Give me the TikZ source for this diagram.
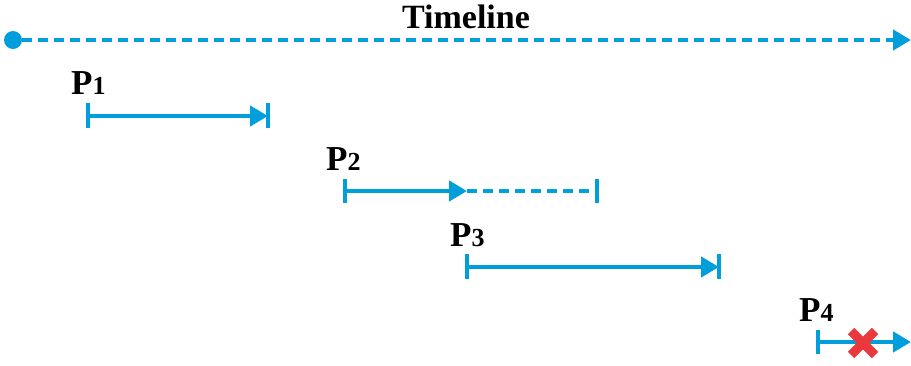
\documentclass[tikz,border=0pt]{standalone}
\usepackage{fontspec}
\setmainfont{Liberation Serif}
\usetikzlibrary{arrows.meta}
\definecolor{tlblue}{RGB}{0,158,219}
\definecolor{xred}{RGB}{234,56,60}
\newcommand{\plabel}[1]{P{\fontsize{26}{26}\selectfont #1}}
\begin{document}
\begin{tikzpicture}[x=1pt,y=-1pt,
  seg/.style={draw=tlblue,line width=4.8pt},
  tipped/.style={-{Triangle[length=18pt,width=20pt]}},
  dashseg/.style={dash pattern=on 10pt off 6pt},
  tickmark/.style={draw=tlblue,line width=4.6pt},
  lbl/.style={font=\fontsize{35}{35}\selectfont\bfseries,inner sep=0pt,anchor=base west},
  title/.style={font=\fontsize{34}{34}\selectfont\bfseries,inner sep=0pt,anchor=base}
]
\useasboundingbox (0,0) rectangle (911,365);

% Timeline
\node[title] (tl) at (466,28) {Timeline};
\node[circle,fill=tlblue,minimum size=18pt,inner sep=0pt] (start) at (13,40) {};
\coordinate (tlend) at (911,40);
\draw[seg,dashseg,tipped] (start.east) -- (tlend);

% P1
\node[lbl] (p1) at (71,94) {\plabel{1}};
\coordinate (p1a) at (88,116);
\coordinate (p1b) at (268,116);
\draw[seg,tipped] (p1a) -- (p1b);
\draw[tickmark] (88,103) -- (88,128);
\draw[tickmark] (268,103) -- (268,128);

% P2
\node[lbl] (p2) at (326,170) {\plabel{2}};
\coordinate (p2a) at (345,191);
\coordinate (p2m) at (467,191);
\coordinate (p2b) at (597,191);
\draw[seg,tipped] (p2a) -- (p2m);
\draw[seg,dashseg] (p2m) -- (p2b);
\draw[tickmark] (345,179) -- (345,203);
\draw[tickmark] (597,179) -- (597,203);

% P3
\node[lbl] (p3) at (450,246) {\plabel{3}};
\coordinate (p3a) at (467,267);
\coordinate (p3b) at (719,267);
\draw[seg,tipped] (p3a) -- (p3b);
\draw[tickmark] (467,254) -- (467,279);
\draw[tickmark] (719,254) -- (719,279);

% P4
\node[lbl] (p4) at (799,321) {\plabel{4}};
\coordinate (p4a) at (818,342);
\coordinate (p4b) at (911,342);
\draw[seg,tipped] (p4a) -- (p4b);
\draw[tickmark] (818,330) -- (818,354);
\node[inner sep=0pt,minimum size=0pt] (cross) at (863,343) {};
\draw[xred,line width=9pt] (cross.center) ++(-12,-12) -- ++(24,24);
\draw[xred,line width=9pt] (cross.center) ++(-12,12) -- ++(24,-24);
\end{tikzpicture}
\end{document}
